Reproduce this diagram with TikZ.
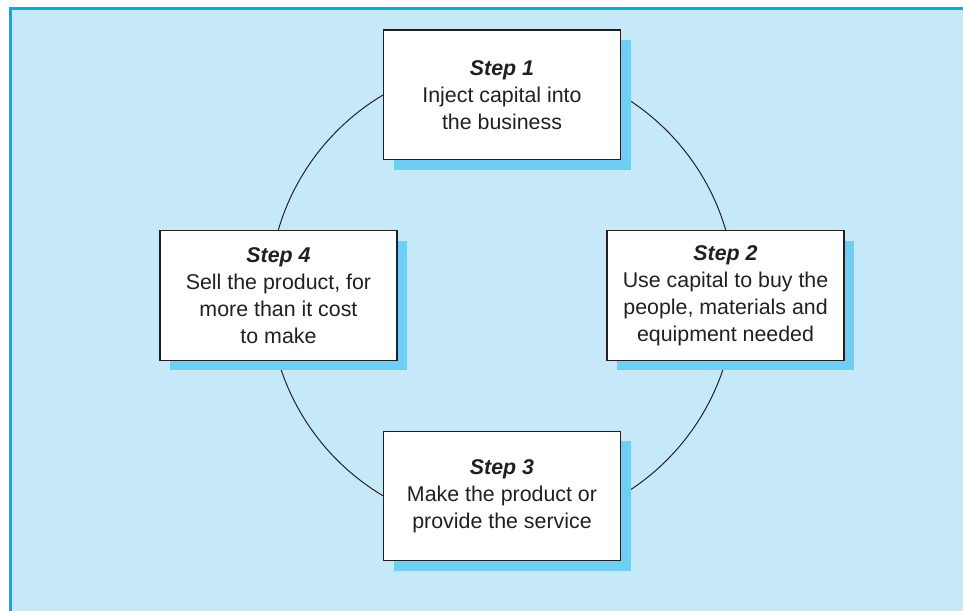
\documentclass[tikz,border=0pt]{standalone}
\usepackage{fontspec}
\setmainfont{Liberation Sans}
\usetikzlibrary{positioning, shadows}
\definecolor{cyclebg}{RGB}{198, 233, 249}
\definecolor{cycleedge}{RGB}{0, 174, 239}
\definecolor{cycleshadow}{RGB}{109, 207, 246}
\definecolor{cycleink}{RGB}{35, 31, 32}

\tikzset{
  stepbox/.style={draw=cycleink, line width=0.9pt, fill=white,
    minimum width=5.925cm, minimum height=3.24cm, align=center,
    font=\fontsize{15.2}{19.2}\selectfont, text=cycleink,
    drop shadow={shadow xshift=0.25cm, shadow yshift=-0.25cm,
      fill=cycleshadow, opacity=1}},
}

\begin{document}
\begin{tikzpicture}
  \useasboundingbox (0,0) rectangle (24.075,15.275);
  % panel
  \fill[cyclebg] (0.2625,0) rectangle (24.075,15.0625);
  \draw[cycleedge, line width=2.1pt] (0.2625,0) -- (0.2625,15.0625) -- (24.075,15.0625);

  % the cycle
  \coordinate (c) at (12.55,7.89);
  \draw[cycleink, line width=0.7pt] (c) circle (5.825cm);

  \node[stepbox, above=3.38cm of c] (s1)
    {\textbf{\textit{Step 1}}\\
     Inject capital into\\
     the business};
  \node[stepbox, right=2.61cm of c] (s2)
    {\textbf{\textit{Step 2}}\\
     Use capital to buy the\\
     people, materials and\\
     equipment needed};
  \node[stepbox, below=3.38cm of c] (s3)
    {\textbf{\textit{Step 3}}\\
     Make the product or\\
     provide the service};
  \node[stepbox, left=2.61cm of c] (s4)
    {\textbf{\textit{Step 4}}\\
     Sell the product, for\\
     more than it cost\\
     to make};
\end{tikzpicture}
\end{document}
